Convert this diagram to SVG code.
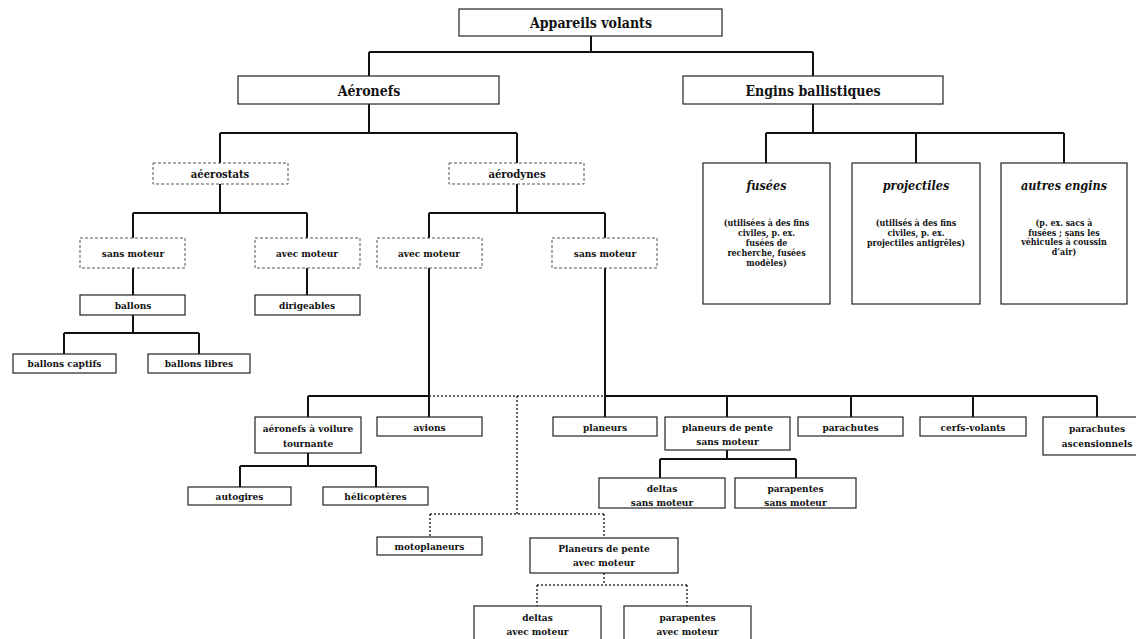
<svg xmlns="http://www.w3.org/2000/svg" width="1136" height="639" viewBox="0 0 1136 639">
<style>
.bx{fill:#fff;stroke:#222;stroke-width:1.2}
.dbx{fill:#fff;stroke:#555;stroke-width:1;stroke-dasharray:3 2}
.t{font-family:"DejaVu Serif Condensed","DejaVu Serif",serif;font-stretch:condensed;font-weight:bold;font-size:10px;fill:#111;text-anchor:middle}
.tl{font-size:14px}
.tm{font-size:11.2px}
.ti{font-style:italic;font-size:12.5px}
.ts{font-size:8.8px}
.c{fill:none;stroke:#111;stroke-width:2}
.d{fill:none;stroke:#333;stroke-width:1.5;stroke-dasharray:2 2}
</style>
<rect width="1136" height="639" fill="#fff"/>
<g id="connectors">
<path class="c" d="M591 36V52M369 52H813M369 52V76M813 52V76M369 104V133M220 133H517M220 133V163M517 133V163M813 104V133M766 133H1064M766 133V163M916 133V163M1064 133V163M220 184V213M133 213H307M133 213V238M307 213V238M133 268V295M307 268V295M133 315V333M64 333H199M64 333V354M199 333V354M517 184V213M429 213H605M429 213V238M605 213V238M429 268V417M605 268V417M308 396H429M308 396V417M605 396H1097M727 396V417M851 396V417M973 396V417M1097 396V417M308 453V466M240 466H376M240 466V487M376 466V487M727 450V459M660 459H796M660 459V478M796 459V478"/>
<path class="d" d="M429 396H605M517 396V514M430 514H604M430 514V537M604 514V537M604 573V585M537 585H687M537 585V606M687 585V606"/>
</g>
<g id="n-appareils"><rect class="bx" x="459" y="9" width="263" height="27"/><text class="t tl" x="591" y="28">Appareils volants</text></g>
<g id="n-aeronefs"><rect class="bx" x="238" y="76" width="261" height="28"/><text class="t tl" x="369" y="95.5">Aéronefs</text></g>
<g id="n-engins"><rect class="bx" x="683" y="76" width="260" height="28"/><text class="t tl" x="813" y="95.5">Engins ballistiques</text></g>
<g id="n-aerostats"><rect class="dbx" x="153" y="163" width="135" height="21"/><text class="t tm" x="220" y="177.5">aéerostats</text></g>
<g id="n-aerodynes"><rect class="dbx" x="449" y="163" width="135" height="21"/><text class="t tm" x="517" y="177.5">aérodynes</text></g>
<g id="n-fusees"><rect class="bx" x="703" y="163" width="127" height="141"/><text class="t ti" x="766.5" y="190">fusées</text>
<text class="t ts" x="766.5" y="226">(utilisées à des fins</text><text class="t ts" x="766.5" y="236">civiles, p. ex.</text><text class="t ts" x="766.5" y="246">fusées de</text><text class="t ts" x="766.5" y="256">recherche, fusées</text><text class="t ts" x="766.5" y="266">modèles)</text></g>
<g id="n-projectiles"><rect class="bx" x="852" y="163" width="128" height="141"/><text class="t ti" x="916" y="190">projectiles</text>
<text class="t ts" x="916" y="226">(utilisés à des fins</text><text class="t ts" x="916" y="236">civiles, p. ex.</text><text class="t ts" x="916" y="246">projectiles antigrêles)</text></g>
<g id="n-autres"><rect class="bx" x="1001" y="163" width="126" height="141"/><text class="t ti" x="1064" y="190">autres engins</text>
<text class="t ts" x="1064" y="226">(p. ex. sacs à</text><text class="t ts" x="1064" y="235.5">fusées ; sans les</text><text class="t ts" x="1064" y="245">véhicules à coussin</text><text class="t ts" x="1064" y="254.5">d’air)</text></g>
<g id="n-sans-moteur-1"><rect class="dbx" x="80" y="238" width="105" height="30"/><text class="t" x="133" y="256.5">sans moteur</text></g>
<g id="n-avec-moteur-1"><rect class="dbx" x="255" y="238" width="105" height="30"/><text class="t" x="307" y="256.5">avec moteur</text></g>
<g id="n-avec-moteur-2"><rect class="dbx" x="377" y="238" width="105" height="30"/><text class="t" x="429" y="256.5">avec moteur</text></g>
<g id="n-sans-moteur-2"><rect class="dbx" x="552" y="238" width="105" height="30"/><text class="t" x="605" y="256.5">sans moteur</text></g>
<g id="n-ballons"><rect class="bx" x="80" y="295" width="105" height="20"/><text class="t" x="133" y="308.5">ballons</text></g>
<g id="n-dirigeables"><rect class="bx" x="255" y="295" width="105" height="20"/><text class="t" x="307" y="308.5">dirigeables</text></g>
<g id="n-ballons-captifs"><rect class="bx" x="13" y="354" width="103" height="19"/><text class="t" x="64.5" y="367">ballons captifs</text></g>
<g id="n-ballons-libres"><rect class="bx" x="148" y="354" width="102" height="19"/><text class="t" x="199" y="367">ballons libres</text></g>
<g id="n-voilure"><rect class="bx" x="255" y="417" width="106" height="36"/><text class="t" x="308" y="431.5">aéronefs à voilure</text><text class="t" x="308" y="446.5">tournante</text></g>
<g id="n-avions"><rect class="bx" x="377" y="417" width="105" height="19"/><text class="t" x="429.5" y="430.5">avions</text></g>
<g id="n-planeurs"><rect class="bx" x="553" y="417" width="104" height="19"/><text class="t" x="605" y="430.5">planeurs</text></g>
<g id="n-pente-sans"><rect class="bx" x="665" y="417" width="125" height="33"/><text class="t" x="727.5" y="430.5">planeurs de pente</text><text class="t" x="727.5" y="444.5">sans moteur</text></g>
<g id="n-parachutes"><rect class="bx" x="798" y="417" width="105" height="19"/><text class="t" x="850.5" y="430.5">parachutes</text></g>
<g id="n-cerfs"><rect class="bx" x="920" y="417" width="106" height="19"/><text class="t" x="973" y="430.5">cerfs-volants</text></g>
<g id="n-ascensionnels"><rect class="bx" x="1043" y="417" width="108" height="38"/><text class="t" x="1097" y="431.5">parachutes</text><text class="t" x="1097" y="446.5">ascensionnels</text></g>
<g id="n-autogires"><rect class="bx" x="188" y="487" width="103" height="18"/><text class="t" x="239.5" y="499.5">autogires</text></g>
<g id="n-helicopteres"><rect class="bx" x="323" y="487" width="105" height="18"/><text class="t" x="375.5" y="499.5">hélicoptères</text></g>
<g id="n-deltas-sans"><rect class="bx" x="599" y="478" width="126" height="30"/><text class="t" x="662" y="491.5">deltas</text><text class="t" x="662" y="505.5">sans moteur</text></g>
<g id="n-parapentes-sans"><rect class="bx" x="735" y="478" width="121" height="30"/><text class="t" x="795.5" y="491.5">parapentes</text><text class="t" x="795.5" y="505.5">sans moteur</text></g>
<g id="n-motoplaneurs"><rect class="bx" x="377" y="537" width="105" height="18"/><text class="t" x="429.5" y="549.5">motoplaneurs</text></g>
<g id="n-pente-avec"><rect class="bx" x="530" y="538" width="148" height="35"/><text class="t" x="604" y="551.5">Planeurs de pente</text><text class="t" x="604" y="565.5">avec moteur</text></g>
<g id="n-deltas-avec"><rect class="bx" x="474" y="606" width="127" height="40"/><text class="t" x="537.5" y="620.5">deltas</text><text class="t" x="537.5" y="634.5">avec moteur</text></g>
<g id="n-parapentes-avec"><rect class="bx" x="624" y="606" width="127" height="40"/><text class="t" x="687.5" y="620.5">parapentes</text><text class="t" x="687.5" y="634.5">avec moteur</text></g>
</svg>
